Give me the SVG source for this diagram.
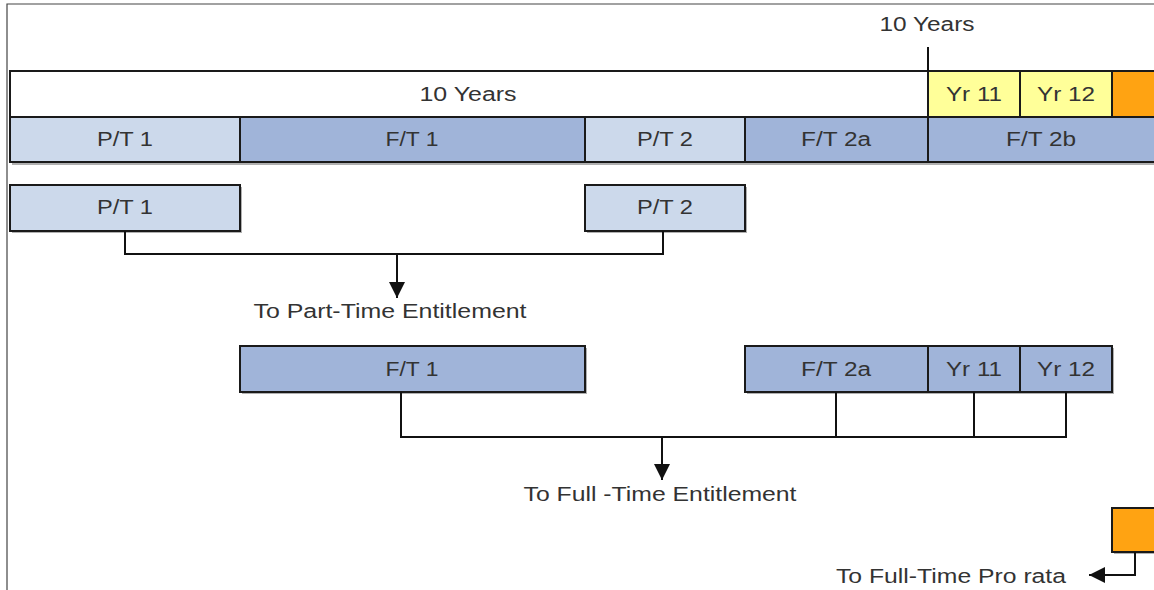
<svg xmlns="http://www.w3.org/2000/svg" width="1154" height="590" viewBox="0 0 1154 590">
<style>
  .box { stroke: #1a1a1a; stroke-width: 2; }
  .w { fill: #ffffff; }
  .lb { fill: #ccd9eb; }
  .db { fill: #a0b4d9; }
  .yl { fill: #ffff99; }
  .or { fill: #ffa312; }
  .shadow { fill: #b0b0b0; }
  text { font-family: "Liberation Sans", Arial, sans-serif; font-size: 20px; fill: #333333; text-anchor: middle; }
  .conn { fill: none; stroke: #111111; stroke-width: 2; }
  .frame { fill: none; stroke: #444444; stroke-width: 1.2; }
</style>
<defs>
  <marker id="arrow" viewBox="0 0 16 16" refX="16" refY="8" markerWidth="16" markerHeight="16" markerUnits="userSpaceOnUse" orient="auto">
    <path d="M0,0 L16,8 L0,16 Z" fill="#111111"/>
  </marker>
</defs>
<rect width="1154" height="590" fill="#ffffff"/>
<path class="frame" d="M7,590 L7,4 L1154,4"/>

<!-- top timeline row -->
<g id="row1">
  <rect class="shadow" x="12" y="73" width="1150" height="92"/>
  <g id="years10"><rect class="box w" x="10" y="71" width="918" height="46"/><text x="468" y="101" textLength="97" lengthAdjust="spacingAndGlyphs">10 Years</text></g>
  <g id="yr11top"><rect class="box yl" x="928" y="71" width="92" height="46"/><text x="974" y="101" textLength="56" lengthAdjust="spacingAndGlyphs">Yr 11</text></g>
  <g id="yr12top"><rect class="box yl" x="1020" y="71" width="92" height="46"/><text x="1066" y="101" textLength="58" lengthAdjust="spacingAndGlyphs">Yr 12</text></g>
  <g id="orangeTop"><rect class="box or" x="1112" y="71" width="60" height="46"/></g>
</g>
<g id="row2">
  <g id="pt1"><rect class="box lb" x="10" y="117" width="230" height="45"/><text x="125" y="146" textLength="56" lengthAdjust="spacingAndGlyphs">P/T 1</text></g>
  <g id="ft1"><rect class="box db" x="240" y="117" width="345" height="45"/><text x="412" y="146" textLength="53" lengthAdjust="spacingAndGlyphs">F/T 1</text></g>
  <g id="pt2"><rect class="box lb" x="585" y="117" width="160" height="45"/><text x="665" y="146" textLength="56" lengthAdjust="spacingAndGlyphs">P/T 2</text></g>
  <g id="ft2a"><rect class="box db" x="745" y="117" width="183" height="45"/><text x="836" y="146" textLength="70" lengthAdjust="spacingAndGlyphs">F/T 2a</text></g>
  <g id="ft2b"><rect class="box db" x="928" y="117" width="240" height="45"/><text x="1041" y="146" textLength="70" lengthAdjust="spacingAndGlyphs">F/T 2b</text></g>
</g>
<g id="marker10">
  <text x="927" y="31" textLength="95" lengthAdjust="spacingAndGlyphs">10 Years</text>
</g>

<!-- part-time row -->
<g id="pt1b"><rect class="shadow" x="12" y="187" width="230" height="46"/><rect class="box lb" x="10" y="185" width="230" height="46"/><text x="125" y="214" textLength="56" lengthAdjust="spacingAndGlyphs">P/T 1</text></g>
<g id="pt2b"><rect class="shadow" x="587" y="187" width="160" height="46"/><rect class="box lb" x="585" y="185" width="160" height="46"/><text x="665" y="214" textLength="56" lengthAdjust="spacingAndGlyphs">P/T 2</text></g>
<g id="ptLabel"><text x="390" y="318" textLength="273" lengthAdjust="spacingAndGlyphs">To Part-Time Entitlement</text></g>

<!-- full-time row -->
<g id="ft1b"><rect class="shadow" x="242" y="348" width="345" height="46"/><rect class="box db" x="240" y="346" width="345" height="46"/><text x="412" y="376" textLength="53" lengthAdjust="spacingAndGlyphs">F/T 1</text></g>
<g id="ftgroup">
  <rect class="shadow" x="747" y="348" width="367" height="46"/>
  <g id="ft2ab"><rect class="box db" x="745" y="346" width="183" height="46"/><text x="836" y="376" textLength="70" lengthAdjust="spacingAndGlyphs">F/T 2a</text></g>
  <g id="yr11b"><rect class="box db" x="928" y="346" width="92" height="46"/><text x="974" y="376" textLength="56" lengthAdjust="spacingAndGlyphs">Yr 11</text></g>
  <g id="yr12b"><rect class="box db" x="1020" y="346" width="92" height="46"/><text x="1066" y="376" textLength="58" lengthAdjust="spacingAndGlyphs">Yr 12</text></g>
</g>
<g id="ftLabel"><text x="660" y="501" textLength="273" lengthAdjust="spacingAndGlyphs">To Full -Time Entitlement</text></g>

<!-- pro rata -->
<g id="orangeB"><rect class="shadow" x="1114" y="510" width="50" height="44"/><rect class="box or" x="1112" y="508" width="60" height="44"/></g>
<g id="proLabel"><text x="951" y="583" textLength="230" lengthAdjust="spacingAndGlyphs">To Full-Time Pro rata</text></g>

<g id="connectors">
  <path class="conn" d="M125,231 L125,254 L663,254 L663,231"/>
  <path class="conn" d="M397,254 L397,298" marker-end="url(#arrow)"/>
  <path class="conn" d="M401,392 L401,437 L1066,437 L1066,392"/>
  <path class="conn" d="M836,392 L836,437"/>
  <path class="conn" d="M974,392 L974,437"/>
  <path class="conn" d="M662,437 L662,480" marker-end="url(#arrow)"/>
  <path class="conn" d="M1135,552 L1135,575 L1089,575" marker-end="url(#arrow)"/>
  <path class="conn" d="M928,47 L928,71"/>
</g>
</svg>
